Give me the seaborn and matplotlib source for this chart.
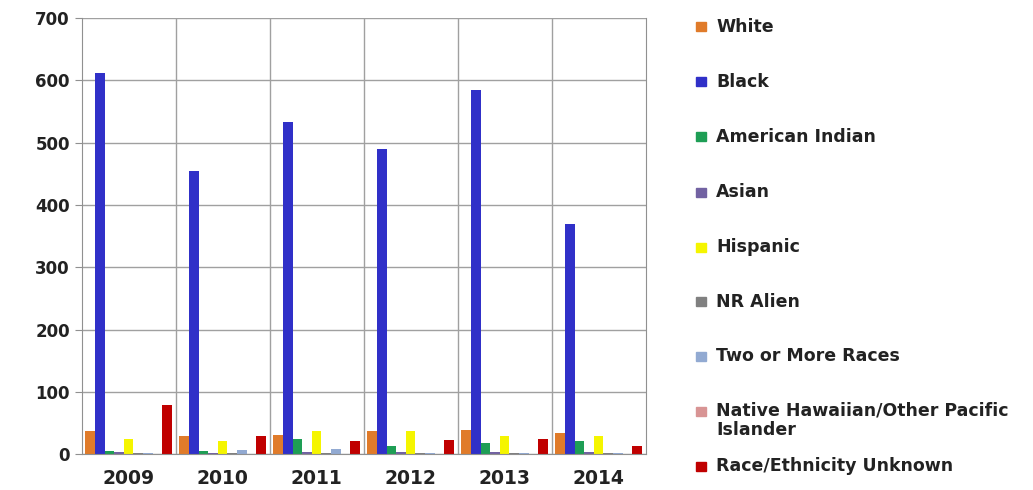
import pandas as pd
import matplotlib
matplotlib.use("Agg")
import matplotlib.pyplot as plt
from matplotlib.patches import Rectangle
import seaborn as sns

# données
annees = ["2009", "2010", "2011", "2012", "2013", "2014"]
groupes = ["White", "Black", "American Indian", "Asian", "Hispanic", "NR Alien",
           "Two or More Races", "Native Hawaiian/Other Pacific\nIslander",
           "Race/Ethnicity Unknown"]
white = [38, 30, 31, 37, 39, 34]
black = [612, 455, 533, 490, 585, 370]
american_indian = [5, 5, 24, 13, 18, 21]
asian = [3, 2, 3, 3, 3, 3]
hispanic = [24, 21, 37, 37, 29, 30]
nr_alien = [2, 2, 2, 2, 2, 2]
two_or_more = [2, 7, 8, 2, 2, 2]
native_hawaiian = [1, 1, 1, 1, 1, 1]
unknown = [79, 29, 21, 23, 24, 13]
couleurs = ["#E07B2A", "#3030C8", "#1E9E55", "#7262A2", "#F5F500",
            "#808080", "#92AAD2", "#D89494", "#C00000"]

series = [white, black, american_indian, asian, hispanic, nr_alien,
          two_or_more, native_hawaiian, unknown]
lignes = []
for g, vals in zip(groupes, series):
    for a, v in zip(annees, vals):
        lignes.append({"annee": a, "groupe": g, "valeur": v})
df = pd.DataFrame(lignes)

sns.set_style("white")
plt.rcParams["font.family"] = ["DejaVu Sans"]

fig = plt.figure(figsize=(10.33, 4.9), dpi=100)
ax = fig.add_axes([0.079, 0.073, 0.546, 0.89])

sns.barplot(data=df, x="annee", y="valeur", hue="groupe", hue_order=groupes,
            palette=couleurs, width=0.92, saturation=1, legend=False,
            linewidth=0, ax=ax)

ax.set_ylim(0, 700)
ax.set_xlim(-0.5, 5.5)
ax.set_yticks(range(0, 701, 100))
ax.set_xticks(range(6), annees)
ax.set_xticks([0.5, 1.5, 2.5, 3.5, 4.5], minor=True)
ax.grid(axis="y", color="#A0A0A0", linewidth=1)
ax.grid(axis="x", which="minor", color="#A0A0A0", linewidth=1)
ax.set_axisbelow(True)
ax.set_xlabel("")
ax.set_ylabel("")
for s in ["left", "bottom", "right"]:
    ax.spines[s].set_color("#909090")
ax.spines["top"].set_visible(False)
ax.tick_params(axis="y", left=True, length=5, color="#909090")
ax.tick_params(axis="x", which="both", bottom=False, pad=7)
for t in ax.get_yticklabels():
    t.set_fontweight("bold")
    t.set_fontsize(12)
    t.set_color("#222222")
for t in ax.get_xticklabels():
    t.set_fontweight("bold")
    t.set_fontsize(13.5)
    t.set_color("#222222")

# légende à droite
y_pos = [27, 82, 137, 192, 247, 302, 356, 411, 466]
for g, c, y in zip(groupes, couleurs, y_pos):
    yf = 1 - y / 490
    fig.patches.append(Rectangle((696 / 1033, yf - 4.5 / 490), 10 / 1033, 9 / 490,
                                 transform=fig.transFigure, color=c))
    fig.text(716 / 1033, yf, g, fontsize=12.5, fontweight="bold", color="#222222",
             va="center", transform=fig.transFigure)
# ajustement pour le libellé sur deux lignes
for t in fig.texts:
    if "\n" in t.get_text():
        t.set_va("top")
        t.set_position((716 / 1033, 1 - 401 / 490))
        t.set_linespacing(1.15)

fig.savefig("out.png", dpi=100)
